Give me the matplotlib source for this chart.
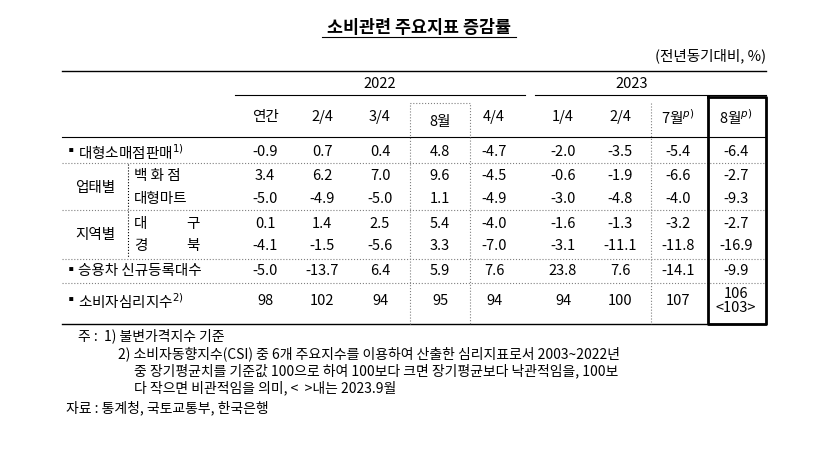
import matplotlib.pyplot as plt

plt.rcParams['font.family'] = ['Noto Sans CJK KR', 'DejaVu Sans']

col_labels = ['연간', '2/4', '3/4', '8월', '4/4', '1/4', '2/4', '7월$^{p)}$', '8월$^{p)}$']
col_x = [265, 322, 380, 440, 494, 563, 620, 678, 736]
row_labels = ['대형소매점판매', '백 화 점', '대형마트', '대구', '경북', '승용차 신규등록대수', '소비자심리지수']
values = [
    ['-0.9', '0.7', '0.4', '4.8', '-4.7', '-2.0', '-3.5', '-5.4', '-6.4'],
    ['3.4', '6.2', '7.0', '9.6', '-4.5', '-0.6', '-1.9', '-6.6', '-2.7'],
    ['-5.0', '-4.9', '-5.0', '1.1', '-4.9', '-3.0', '-4.8', '-4.0', '-9.3'],
    ['0.1', '1.4', '2.5', '5.4', '-4.0', '-1.6', '-1.3', '-3.2', '-2.7'],
    ['-4.1', '-1.5', '-5.6', '3.3', '-7.0', '-3.1', '-11.1', '-11.8', '-16.9'],
    ['-5.0', '-13.7', '6.4', '5.9', '7.6', '23.8', '7.6', '-14.1', '-9.9'],
    ['98', '102', '94', '95', '94', '94', '100', '107', '106\n<103>'],
]
row_y = [152, 176, 199, 224, 246, 271, 301]

fig = plt.figure(figsize=(8.3, 4.56), dpi=100)
ax = fig.add_axes([0, 0, 1, 1])
ax.set_xlim(0, 830)
ax.set_ylim(456, 0)
ax.axis('off')
fs = 10.5

ax.text(419, 28, '소비관련 주요지표 증감률', ha='center', va='center', fontsize=12.5, fontweight='bold')
ax.plot([322, 516], [38, 38], color='black', lw=0.8)
ax.text(766, 56, '(전년동기대비, %)', ha='right', va='center', fontsize=fs)

# horizontal lines
ax.plot([62, 766], [72, 72], color='black', lw=1)
ax.text(380, 84, '2022', ha='center', va='center', fontsize=fs)
ax.text(632, 84, '2023', ha='center', va='center', fontsize=fs)
ax.plot([235, 525], [96, 96], color='black', lw=0.8)
ax.plot([535, 766], [96, 96], color='black', lw=0.8)
ax.plot([62, 766], [138, 138], color='black', lw=0.8)
for y in [164, 211, 260, 284]:
    ax.plot([62, 766], [y, y], color='gray', lw=0.8, ls=':')
ax.plot([62, 766], [325, 325], color='black', lw=1)

# vertical lines
ax.plot([410, 410, 470, 470], [325, 104, 104, 325], color='gray', lw=0.8, ls=':')
ax.plot([651, 651], [104, 325], color='gray', lw=0.8, ls=':')
for y0, y1 in [(164, 211), (211, 260)]:
    ax.plot([128, 128], [y0 + 1, y1 - 1], color='black', lw=0.8, ls=':')
ax.plot([708, 766, 766, 708, 708], [98, 98, 325, 325, 98], color='black', lw=2)

for x, lab in zip(col_x, col_labels):
    ax.text(x, 122 if lab.startswith('8월') and x < 500 else 117, lab,
            ha='center', va='center', fontsize=fs)

sup = ['$^{1)}$', '', '', '', '', '', '$^{2)}$']
for i, (y, lab) in enumerate(zip(row_y, row_labels)):
    if i in (0, 5, 6):
        ax.text(64, y, '▪', ha='left', va='center', fontsize=fs)
        ax.text(78, y, lab + sup[i], ha='left', va='center', fontsize=fs)
    elif i in (3, 4):
        ax.text(134, y, lab[0], ha='left', va='center', fontsize=fs)
        ax.text(200, y, lab[1], ha='right', va='center', fontsize=fs)
    else:
        ax.text(134, y, lab, ha='left', va='center', fontsize=fs)
    for x, v in zip(col_x, values[i]):
        ax.text(x, y, v, ha='center', va='center', fontsize=fs, linespacing=1.0)
ax.text(95, 188, '업태별', ha='center', va='center', fontsize=fs)
ax.text(95, 235, '지역별', ha='center', va='center', fontsize=fs)

notes = [
    (78, 336, '주 :  1) 불변가격지수 기준'),
    (118, 354, '2) 소비자동향지수(CSI) 중 6개 주요지수를 이용하여 산출한 심리지표로서 2003~2022년'),
    (134, 371, '중 장기평균치를 기준값 100으로 하여 100보다 크면 장기평균보다 낙관적임을, 100보'),
    (134, 388, '다 작으면 비관적임을 의미, <  >내는 2023.9월'),
    (66, 408, '자료 : 통계청, 국토교통부, 한국은행'),
]
for x, y, t in notes:
    ax.text(x, y, t, ha='left', va='center', fontsize=10)

fig.savefig('out.png', dpi=100)
